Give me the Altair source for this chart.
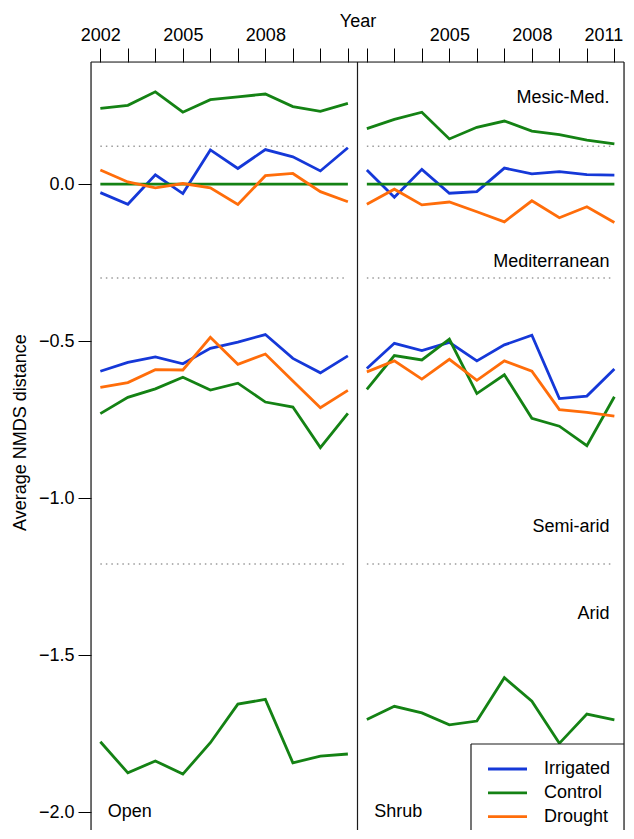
import altair as alt
import pandas as pd

FONT = "Liberation Sans"

years = [2002, 2003, 2004, 2005, 2006, 2007, 2008, 2009, 2010, 2011]
treatments = ["Irrigated", "Control", "Drought"]
colors = ["#1538d8", "#148214", "#ff6d0a"]
panels = ["Open", "Shrub"]

# ---- Open panel ----
open_mesic_control = [0.241, 0.251, 0.294, 0.229, 0.269, 0.278, 0.287, 0.247, 0.232, 0.257]
open_med_irrigated = [-0.027, -0.064, 0.030, -0.030, 0.109, 0.050, 0.110, 0.087, 0.042, 0.116]
open_med_control = [0.0, 0.0, 0.0, 0.0, 0.0, 0.0, 0.0, 0.0, 0.0, 0.0]
open_med_drought = [0.045, 0.007, -0.012, 0.002, -0.012, -0.065, 0.027, 0.034, -0.024, -0.056]
open_semi_irrigated = [-0.596, -0.568, -0.550, -0.572, -0.523, -0.503, -0.479, -0.555, -0.601, -0.547]
open_semi_control = [-0.731, -0.679, -0.652, -0.615, -0.656, -0.634, -0.694, -0.710, -0.839, -0.730]
open_semi_drought = [-0.647, -0.632, -0.591, -0.592, -0.488, -0.574, -0.541, -0.627, -0.712, -0.657]
open_arid_control = [-1.776, -1.875, -1.837, -1.879, -1.779, -1.656, -1.641, -1.843, -1.822, -1.815]

# ---- Shrub panel ----
shrub_mesic_control = [0.177, 0.206, 0.229, 0.144, 0.181, 0.201, 0.169, 0.158, 0.140, 0.128]
shrub_med_irrigated = [0.045, -0.042, 0.047, -0.029, -0.024, 0.051, 0.033, 0.040, 0.030, 0.029]
shrub_med_control = [0.0, 0.0, 0.0, 0.0, 0.0, 0.0, 0.0, 0.0, 0.0, 0.0]
shrub_med_drought = [-0.064, -0.016, -0.066, -0.057, -0.088, -0.120, -0.053, -0.107, -0.072, -0.122]
shrub_semi_irrigated = [-0.587, -0.507, -0.530, -0.504, -0.563, -0.512, -0.481, -0.683, -0.675, -0.589]
shrub_semi_control = [-0.654, -0.546, -0.560, -0.494, -0.667, -0.607, -0.746, -0.771, -0.833, -0.677]
shrub_semi_drought = [-0.598, -0.563, -0.621, -0.558, -0.625, -0.563, -0.596, -0.718, -0.727, -0.739]
shrub_arid_control = [-1.705, -1.663, -1.684, -1.722, -1.710, -1.572, -1.647, -1.781, -1.688, -1.706]

# region labels and separators
region_labels = ["Mesic-Med.", "Mediterranean", "Semi-arid", "Arid"]
region_label_y = [0.257, -0.263, -1.107, -1.384]
region_label_year = 2010.82
boundaries = [0.121, -0.299, -1.21]
boundary_start = 2002
boundary_end = 2011
panel_label_year = 2002.27
panel_label_y = -2.015

y_ticks = [-2.0, -1.5, -1.0, -0.5, 0.0]
panel_domain = [2001.66, 2011.35]          # year range shown in each panel
SPAN = panel_domain[1] - panel_domain[0]    # the Shrub panel sits one span to the right
offsets = {"Open": 0.0, "Shrub": SPAN}
y_domain = [-2.057, 0.389]

series = {
    "Open": [
        ("Mesic", "Control", open_mesic_control),
        ("Med", "Irrigated", open_med_irrigated),
        ("Med", "Control", open_med_control),
        ("Med", "Drought", open_med_drought),
        ("Semi", "Irrigated", open_semi_irrigated),
        ("Semi", "Control", open_semi_control),
        ("Semi", "Drought", open_semi_drought),
        ("Arid", "Control", open_arid_control),
    ],
    "Shrub": [
        ("Mesic", "Control", shrub_mesic_control),
        ("Med", "Irrigated", shrub_med_irrigated),
        ("Med", "Control", shrub_med_control),
        ("Med", "Drought", shrub_med_drought),
        ("Semi", "Irrigated", shrub_semi_irrigated),
        ("Semi", "Control", shrub_semi_control),
        ("Semi", "Drought", shrub_semi_drought),
        ("Arid", "Control", shrub_arid_control),
    ],
}

W, H = 533, 768
BORDER = "#1a1a1a"

rows = []
for p in panels:
    for region, trt, vals in series[p]:
        for yr, v in zip(years, vals):
            rows.append({"x": yr + offsets[p], "value": v, "grp": p + region,
                         "treatment": trt})
df = pd.DataFrame(rows)

tick_values = [yr + offsets[p] for p in panels for yr in years]
label_expr = (
    "datum.value < 2011.5 ? "
    "((datum.value == 2002 || datum.value == 2005 || datum.value == 2008) ? format(datum.value, 'd') : '') : "
    f"((round(datum.value - {SPAN}) == 2005 || round(datum.value - {SPAN}) == 2008 || "
    f"round(datum.value - {SPAN}) == 2011) ? format(round(datum.value - {SPAN}), 'd') : '')"
)

x_scale = alt.Scale(domain=[panel_domain[0], panel_domain[0] + 2 * SPAN], nice=False, zero=False)
y_scale = alt.Scale(domain=y_domain, nice=False, zero=False)

x_axis = alt.Axis(
    orient="top", values=tick_values, tickCount=40, labelExpr=label_expr,
    tickSize=14, tickColor="black", tickWidth=1,
    labelPadding=8, labelBaseline="alphabetic", labelFlush=False, labelOverlap=False,
    labelOffset={"condition": {"test": "datum.value > 2020", "value": -11}, "value": 0},
    labelFontSize=18, labelFont=FONT, labelColor="black",
    domain=False, grid=False,
    title="Year", titleFontSize=18, titleFont=FONT, titleFontWeight="normal",
    titleColor="black", titlePadding=-4,
)
y_axis = alt.Axis(
    values=y_ticks, labelExpr="replace(format(datum.value, '.1f'), '-', '\u2212')",
    tickSize=13, tickColor="black",
    labelPadding=4, labelFontSize=18, labelFont=FONT, labelColor="black",
    domain=False, grid=False,
    title="Average NMDS distance", titleFontSize=18, titleFont=FONT,
    titleFontWeight="normal", titleColor="black", titlePadding=9, titleY=370,
)

color_scale = alt.Scale(domain=treatments, range=colors)

lines = alt.Chart(df).mark_line(strokeWidth=2.8).encode(
    x=alt.X("x:Q", scale=x_scale, axis=x_axis),
    y=alt.Y("value:Q", scale=y_scale, axis=y_axis),
    color=alt.Color("treatment:N", scale=color_scale, legend=None),
    detail="grp:N",
)

bdf = pd.DataFrame([{"y": b, "x1": boundary_start + offsets[p], "x2": boundary_end + offsets[p]}
                    for p in panels for b in boundaries])
seps = alt.Chart(bdf).mark_rule(strokeDash=[1.5, 4], strokeWidth=1.5, color="#9a9a9a").encode(
    x="x1:Q", x2="x2:Q", y="y:Q"
)

one = pd.DataFrame({"a": [0]})
# panel frame: top, left, right and the divider (bottom runs off the page)
frame = [
    alt.Chart(one).mark_rule(color=BORDER, strokeWidth=1.2).encode(
        x=alt.value(0), x2=alt.value(W), y=alt.value(0)),
    alt.Chart(one).mark_rule(color=BORDER, strokeWidth=1.2).encode(
        x=alt.value(0), y=alt.value(0), y2=alt.value(H)),
    alt.Chart(one).mark_rule(color=BORDER, strokeWidth=1.2).encode(
        x=alt.value(W), y=alt.value(0), y2=alt.value(H)),
    alt.Chart(one).mark_rule(color=BORDER, strokeWidth=1.2).encode(
        x=alt.datum(panel_domain[1]), y=alt.value(0), y2=alt.value(H)),
]

pdf = pd.DataFrame({"label": panels,
                    "x": [panel_label_year + offsets[p] for p in panels],
                    "y": [panel_label_y] * 2})
plabels = alt.Chart(pdf).mark_text(align="left", baseline="alphabetic", fontSize=18,
                                   font=FONT, color="black").encode(
    x="x:Q", y="y:Q", text="label:N")

rdf = pd.DataFrame({"label": region_labels, "y": region_label_y,
                    "x": [region_label_year + offsets["Shrub"]] * len(region_labels)})
rtext = alt.Chart(rdf).mark_text(align="right", baseline="alphabetic", fontSize=18,
                                 font=FONT, color="black").encode(
    x="x:Q", y="y:Q", text="label:N")

# legend box (layout in pixels inside the plot area; its bottom runs off the page)
LX, LY = 380, 682
legend_layers = [
    alt.Chart(one).mark_rect(fill="white").encode(
        x=alt.value(LX), x2=alt.value(W), y=alt.value(LY), y2=alt.value(H)),
    alt.Chart(one).mark_rule(color=BORDER, strokeWidth=1.2).encode(
        x=alt.value(LX), x2=alt.value(W), y=alt.value(LY)),
    alt.Chart(one).mark_rule(color=BORDER, strokeWidth=1.2).encode(
        x=alt.value(LX), y=alt.value(LY), y2=alt.value(H)),
]
for i, (trt, col) in enumerate(zip(treatments, colors)):
    yy = LY + 25 + 23.8 * i
    sw = alt.Chart(pd.DataFrame({"t": [trt]})).mark_rule(strokeWidth=2.8, color=col).encode(
        x=alt.value(397), x2=alt.value(436), y=alt.value(yy))
    tx = alt.Chart(pd.DataFrame({"t": [trt]})).mark_text(
        align="left", baseline="middle", fontSize=18, font=FONT, color="black").encode(
        x=alt.value(453), y=alt.value(yy), text="t:N")
    legend_layers += [sw, tx]

chart = alt.layer(seps, lines, plabels, rtext, *legend_layers, *frame).properties(
    width=W, height=H,
    autosize=alt.AutoSizeParams(type="none"),
    padding={"left": 83, "top": 54, "right": 2, "bottom": 0},
).configure_view(stroke=None).configure(font=FONT)

chart.save("out.html", embed_options={"renderer": "svg", "actions": False})
